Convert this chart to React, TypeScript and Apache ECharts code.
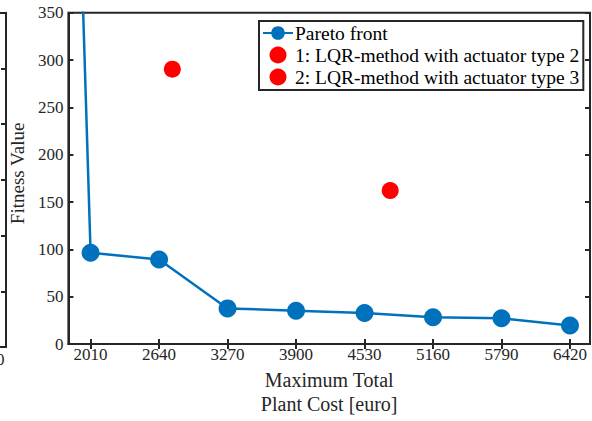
import React, { useEffect, useRef } from "react";
import * as echarts from "echarts";

const xTicks = [2010, 2640, 3270, 3900, 4530, 5160, 5790, 6420];
const paretoCost = [1380, 2010, 2640, 3270, 3900, 4530, 5160, 5790, 6420];
const paretoFitness = [2446, 96.4, 89.4, 37.7, 35.3, 32.8, 28.3, 27.3, 19.6];
const lqrType2 = [[2762, 290.4]];
const lqrType3 = [[4766, 162.2]];
const seriesNames = [
  "Pareto front",
  "1: LQR-method with actuator type 2",
  "2: LQR-method with actuator type 3",
];

const AX = "#262626";
const FONT = "'Liberation Serif', 'DejaVu Serif', serif";

export default function App() {
  const ref = useRef<HTMLDivElement>(null);
  useEffect(() => {
    if (!ref.current) return;
    const chart = echarts.init(ref.current, null, { renderer: "svg" });
    const gTop = 12.7;
    const gH = 334.3;
    const tick = { show: true, inside: true, length: 5, lineStyle: { color: AX, width: 2 } };
    const line = { show: true, onZero: false, lineStyle: { color: AX, width: 2 } };
    chart.setOption({
      animation: false,
      backgroundColor: "#ffffff",
      textStyle: { fontFamily: FONT },
      grid: [
        {
          left: 68.3,
          top: gTop,
          width: 521.7,
          height: gH,
          show: true,
          borderColor: AX,
          borderWidth: 2,
          backgroundColor: "transparent",
        },
        {
          left: 0,
          top: gTop,
          width: 6,
          height: gH,
          show: false,
        },
      ],
      xAxis: [
        {
          type: "value",
          gridIndex: 0,
          min: 1806,
          max: 6604,
          position: "bottom",
          splitLine: { show: false },
          axisLine: line,
          axisTick: { ...tick, customValues: xTicks },
          axisLabel: {
            customValues: xTicks,
            formatter: (v: number) => String(v),
            margin: 2,
            color: AX,
            fontSize: 17,
            fontFamily: FONT,
          },
          name: "Maximum Total\nPlant Cost [euro]",
          nameLocation: "middle",
          nameGap: 23,
          nameTextStyle: {
            color: AX,
            fontSize: 20,
            lineHeight: 24,
            fontFamily: FONT,
          },
        },
        {
          type: "value",
          gridIndex: 0,
          min: 1806,
          max: 6604,
          position: "top",
          splitLine: { show: false },
          axisLine: { show: false },
          axisTick: { ...tick, customValues: xTicks },
          axisLabel: { show: false },
        },
        {
          type: "value",
          gridIndex: 1,
          min: 0,
          max: 1,
          position: "bottom",
          splitLine: { show: false },
          axisLine: line,
          axisTick: { show: false },
          axisLabel: { show: false },
        },
        {
          type: "value",
          gridIndex: 1,
          min: 0,
          max: 1,
          position: "top",
          splitLine: { show: false },
          axisLine: line,
          axisTick: { show: false },
          axisLabel: { show: false },
        },
      ],
      yAxis: [
        {
          type: "value",
          gridIndex: 0,
          min: 0,
          max: 350,
          interval: 50,
          position: "left",
          splitLine: { show: false },
          axisLine: line,
          axisTick: tick,
          axisLabel: { margin: 5, color: AX, fontSize: 17, fontFamily: FONT },
          name: "Fitness Value",
          nameLocation: "middle",
          nameGap: 41,
          nameTextStyle: { color: AX, fontSize: 19, fontFamily: FONT, padding: [0, 0, 0, 10] },
        },
        {
          type: "value",
          gridIndex: 0,
          min: 0,
          max: 350,
          interval: 50,
          position: "right",
          splitLine: { show: false },
          axisLine: { show: false },
          axisTick: tick,
          axisLabel: { show: false },
        },
        {
          type: "value",
          gridIndex: 1,
          min: 0,
          max: 6,
          interval: 1,
          position: "right",
          splitLine: { show: false },
          axisLine: line,
          axisTick: tick,
          axisLabel: { show: false },
        },
      ],
      legend: {
        orient: "vertical",
        left: 259,
        top: 21,
        padding: [2, 4, 3, 3],
        itemWidth: 30,
        itemHeight: 17,
        itemGap: 2,
        backgroundColor: "#ffffff",
        borderColor: AX,
        borderWidth: 2,
        borderRadius: 0,
        data: seriesNames,
        textStyle: {
          color: "#000000",
          fontSize: 19.5,
          lineHeight: 20,
          fontFamily: FONT,
          padding: [0, 0, 0, -3],
        },
      },
      graphic: [
        {
          type: "text",
          left: -4,
          top: 351,
          style: { text: "0", font: "17px " + FONT, fill: AX },
        },
      ],
      series: [
        {
          name: seriesNames[0],
          type: "line",
          xAxisIndex: 0,
          yAxisIndex: 0,
          data: paretoCost.map((c, i) => [c, paretoFitness[i]]),
          symbol: "circle",
          symbolSize: 18,
          clip: true,
          lineStyle: { color: "#0072BD", width: 2.5 },
          itemStyle: { color: "#0072BD", opacity: 1 },
          z: 2,
        },
        {
          name: seriesNames[1],
          type: "scatter",
          xAxisIndex: 0,
          yAxisIndex: 0,
          data: lqrType2,
          symbol: "circle",
          symbolSize: 17,
          itemStyle: { color: "#FF0000", opacity: 1 },
          z: 3,
        },
        {
          name: seriesNames[2],
          type: "scatter",
          xAxisIndex: 0,
          yAxisIndex: 0,
          data: lqrType3,
          symbol: "circle",
          symbolSize: 17,
          itemStyle: { color: "#FF0000", opacity: 1 },
          z: 3,
        },
      ],
    });
    return () => chart.dispose();
  }, []);
  return (
    <div
      ref={ref}
      style={{ position: "fixed", left: 0, top: 0, width: 592, height: 421 }}
    />
  );
}
